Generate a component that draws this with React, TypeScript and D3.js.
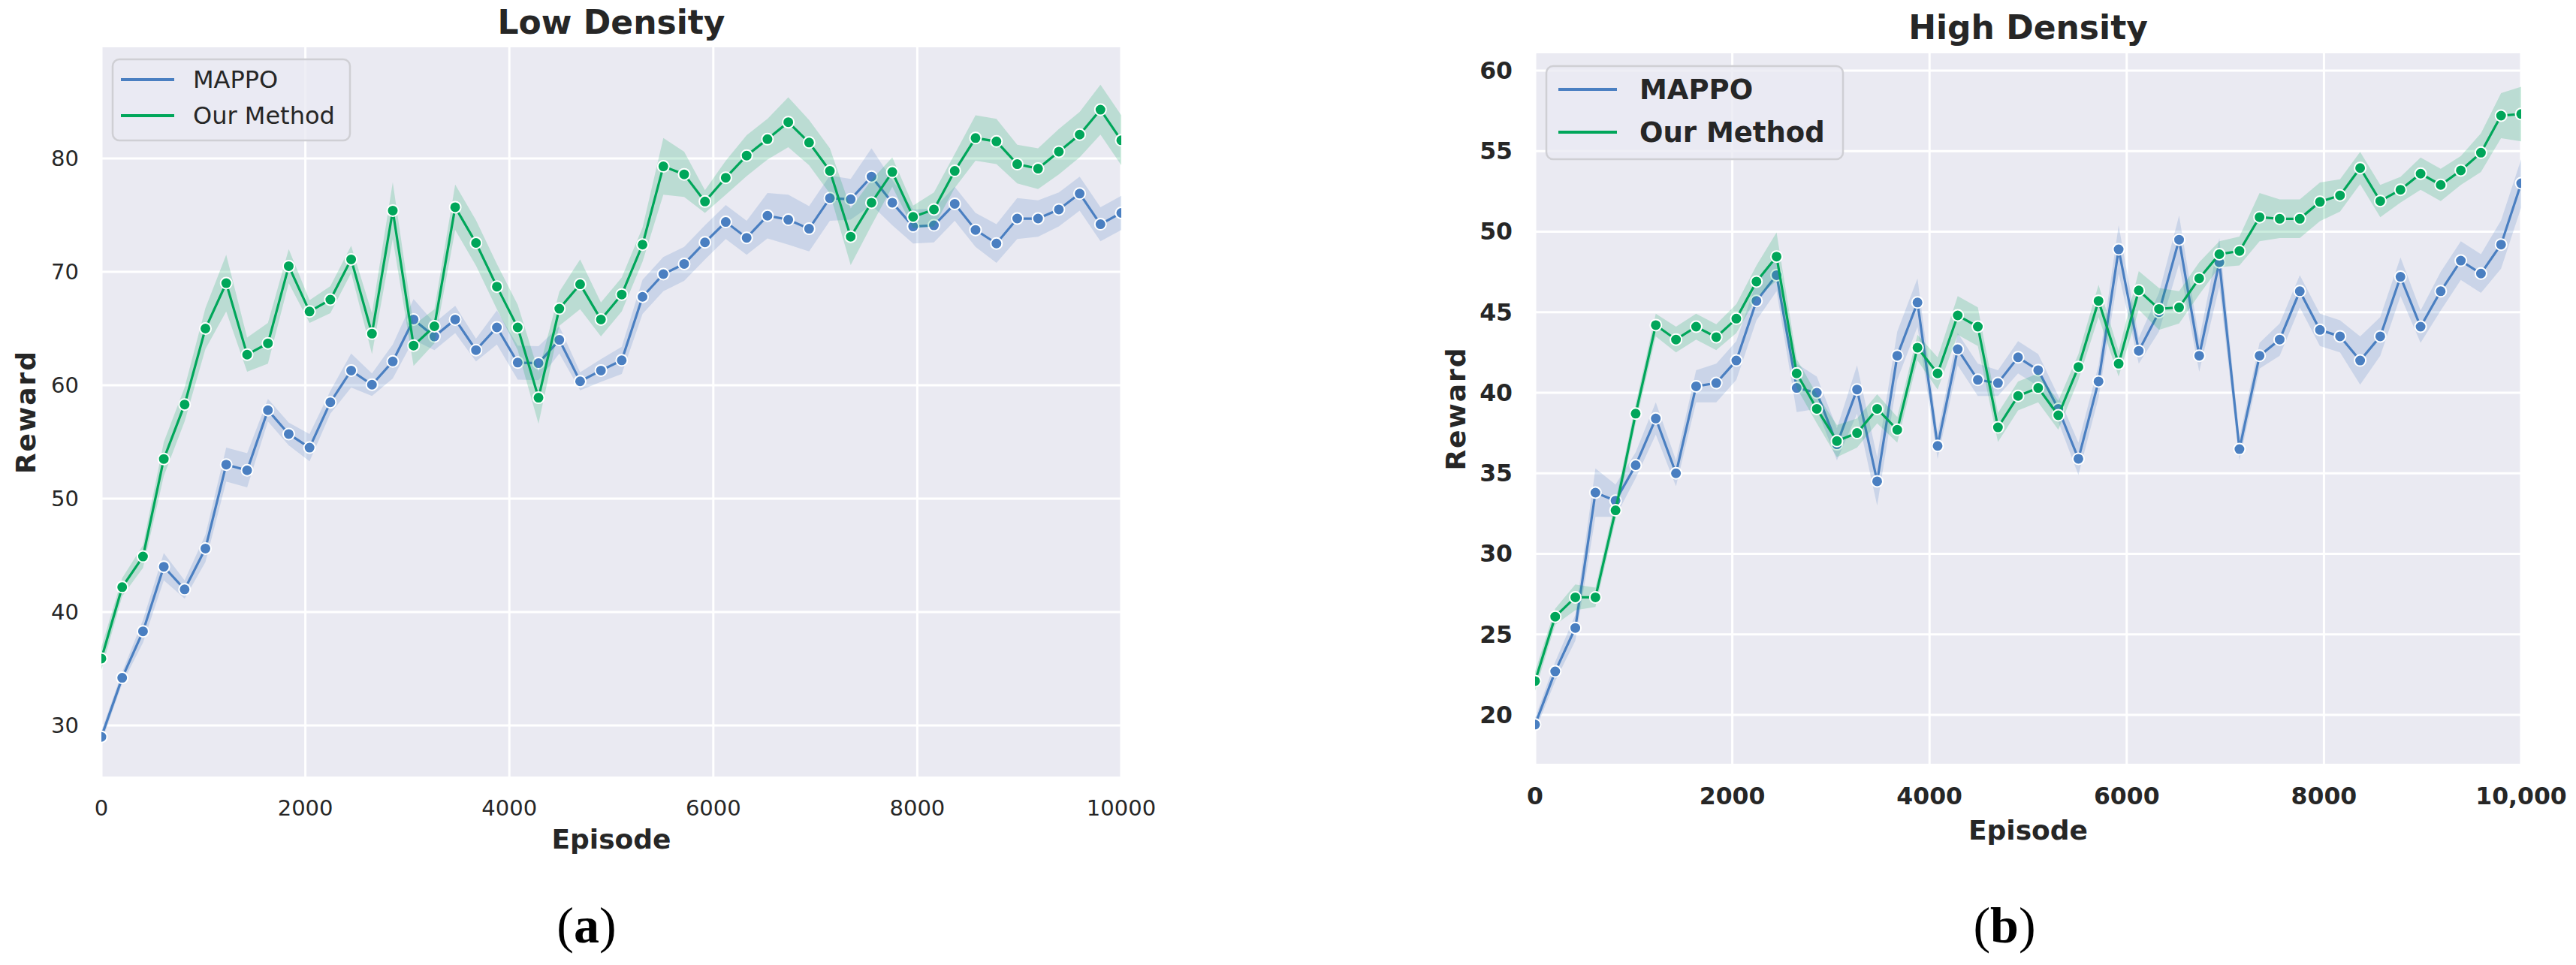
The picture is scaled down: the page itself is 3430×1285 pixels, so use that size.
import React from "react";
import * as d3 from "d3";

const W = 3430;
const H = 1285;

// episodes: 50 evenly spaced checkpoints between 0 and 10000
const episodes = [
  0, 204, 408, 612, 816, 1020, 1224, 1429, 1633, 1837, 2041, 2245, 2449, 2653, 2857, 3061, 3265,
  3469, 3673, 3878, 4082, 4286, 4490, 4694, 4898, 5102, 5306, 5510, 5714, 5918, 6122, 6327, 6531,
  6735, 6939, 7143, 7347, 7551, 7755, 7959, 8163, 8367, 8571, 8776, 8980, 9184, 9388, 9592, 9796,
  10000,
];

// Low Density
const lowMappo = [
  29.0, 34.2, 38.3, 44.0, 42.0, 45.6, 53.0, 52.5, 57.8, 55.7, 54.5, 58.5, 61.3, 60.05, 62.1, 65.8,
  64.3, 65.8, 63.1, 65.1, 62.0, 61.95, 64.0, 60.35, 61.3, 62.2, 67.8, 69.8, 70.7, 72.6, 74.4, 73.0,
  74.95, 74.6, 73.8, 76.5, 76.4, 78.4, 76.1, 74.0, 74.1, 76.0, 73.7, 72.5, 74.7, 74.7, 75.5, 76.9,
  74.2, 75.2,
];
const lowMappoCI = [
  0.5, 0.5, 1.0, 1.2, 0.8, 1.2, 1.5, 1.5, 1.0, 1.0, 1.2, 1.0, 1.5, 1.0, 1.5, 1.8, 1.2, 1.2, 1.0,
  1.5, 1.5, 1.5, 1.2, 0.8, 1.0, 1.2, 1.5, 1.5, 1.5, 1.5, 1.5, 1.5, 2.0, 2.2, 2.0, 2.0, 1.8, 2.5,
  2.0, 1.5, 1.5, 1.5, 1.5, 1.7, 1.8, 1.6, 1.5, 1.5, 1.5, 1.5,
];
const lowOurs = [
  35.9, 42.2, 44.9, 53.5, 58.3, 65.0, 69.0, 62.7, 63.7, 70.5, 66.5, 67.55, 71.1, 64.55, 75.4, 63.5,
  65.2, 75.7, 72.55, 68.7, 65.1, 58.9, 66.75, 68.9, 65.8, 68.0, 72.4, 79.3, 78.6, 76.2, 78.3, 80.25,
  81.7, 83.2, 81.4, 78.9, 73.1, 76.1, 78.8, 74.85, 75.5, 78.9, 81.8, 81.5, 79.5, 79.1, 80.6, 82.1,
  84.3, 81.6,
];
const lowOursCI = [
  1.0, 0.8, 1.0, 1.5, 1.5, 1.8, 2.5, 1.5, 1.8, 1.5, 1.0, 1.2, 1.2, 1.8, 2.5, 1.8, 1.5, 2.0, 2.0,
  2.0, 2.0, 2.3, 1.5, 2.2, 1.5, 1.5, 1.5, 2.5, 2.0, 1.0, 1.5, 1.8, 1.8, 2.2, 2.0, 2.0, 2.5, 2.0,
  1.3, 1.0, 1.5, 1.5, 2.0, 2.0, 1.7, 1.8, 2.0, 2.0, 2.2, 2.2,
];

// High Density
const highMappo = [
  19.4, 22.7, 25.4, 33.8, 33.3, 35.5, 38.4, 35.0, 40.4, 40.6, 42.0, 45.7, 47.3, 40.3, 40.0, 36.8,
  40.2, 34.5, 42.3, 45.6, 36.7, 42.7, 40.8, 40.6, 42.2, 41.4, 39.0, 35.9, 40.7, 48.9, 42.6, 45.0,
  49.5, 42.3, 48.1, 36.5, 42.3, 43.3, 46.3, 43.9, 43.5, 42.0, 43.5, 47.2, 44.1, 46.3, 48.2, 47.4,
  49.2, 53.0,
];
const highMappoCI = [
  0.4, 0.6, 0.8, 1.5, 1.0, 0.8, 1.0, 0.8, 1.0, 1.2, 1.2, 1.2, 1.0, 1.5, 1.0, 1.0, 1.5, 1.5, 1.5,
  1.5, 0.8, 1.0, 1.0, 0.8, 1.0, 1.0, 0.8, 1.0, 1.0, 1.5, 0.8, 1.2, 1.5, 1.0, 1.5, 0.7, 0.8, 1.0,
  1.0, 1.0, 1.0, 1.5, 1.2, 1.2, 1.0, 1.2, 1.2, 1.2, 1.5, 1.5,
];
const highOurs = [
  22.1, 26.1, 27.3, 27.3, 32.7, 38.7, 44.2, 43.3, 44.1, 43.45, 44.6, 46.9, 48.45, 41.2, 39.0, 37.0,
  37.5, 39.0, 37.7, 42.8, 41.2, 44.8, 44.1, 37.85, 39.8, 40.3, 38.6, 41.6, 45.7, 41.8, 46.35, 45.2,
  45.3, 47.1, 48.6, 48.8, 50.9, 50.8, 50.8, 51.85, 52.25, 53.95, 51.9, 52.6, 53.6, 52.9, 53.8, 54.9,
  57.2, 57.3,
];
const highOursCI = [
  0.6, 0.5, 0.8, 0.6, 0.6, 0.6, 0.7, 0.8, 0.8, 0.8, 0.9, 1.0, 1.5, 0.9, 0.9, 1.0, 0.9, 0.9, 0.8,
  0.8, 1.0, 1.2, 1.2, 0.9, 0.9, 0.9, 0.9, 0.8, 1.0, 0.8, 1.2, 1.3, 1.0, 1.0, 0.8, 0.9, 1.5, 1.2,
  1.2, 1.2, 1.0, 1.0, 1.0, 0.8, 1.0, 1.0, 0.9, 1.2, 1.4, 1.7,
];

const xTicks = [0, 2000, 4000, 6000, 8000, 10000];
const lowXLabels = ["0", "2000", "4000", "6000", "8000", "10000"];
const highXLabels = ["0", "2000", "4000", "6000", "8000", "10,000"];
const lowYTicks = [30, 40, 50, 60, 70, 80];
const highYTicks = [20, 25, 30, 35, 40, 45, 50, 55, 60];
const seriesNames = ["MAPPO", "Our Method"];

const BLUE = "#4a7fc1";
const GREEN = "#00a65a";
const BG = "#eaeaf2";
const INK = "#262626";
const FONT = "DejaVu Sans, sans-serif";

type Box = { x0: number; x1: number; y0: number; y1: number };

type PanelProps = {
  id: string;
  box: Box;
  yDomain: [number, number];
  yTicks: number[];
  xLabels: string[];
  title: string;
  mappo: number[];
  mappoCI: number[];
  ours: number[];
  oursCI: number[];
  tickBold: boolean;
  tickSize: number;
  xTickBase: number;
  titleBase: number;
  xLabelBase: number;
  yLabelX: number;
  legend: { x: number; y: number; w: number; h: number; rows: number[]; lx0: number; lx1: number; tx: number; size: number; bold: boolean };
};

const Panel = (p: PanelProps) => {
  const { box } = p;
  const x = d3.scaleLinear().domain([0, 10000]).range([box.x0, box.x1]);
  const y = d3.scaleLinear().domain(p.yDomain).range([box.y1, box.y0]);

  const series = [
    { name: seriesNames[0], color: BLUE, vals: p.mappo, ci: p.mappoCI },
    { name: seriesNames[1], color: GREEN, vals: p.ours, ci: p.oursCI },
  ];

  const line = d3
    .line<number>()
    .x((_, i) => x(episodes[i]))
    .y((d) => y(d));

  const cx = (box.x0 + box.x1) / 2;
  const cy = (box.y0 + box.y1) / 2;

  return (
    <g>
      <defs>
        <clipPath id={`clip-${p.id}`}>
          <rect x={box.x0} y={box.y0} width={box.x1 - box.x0} height={box.y1 - box.y0} />
        </clipPath>
      </defs>
      <rect x={box.x0} y={box.y0} width={box.x1 - box.x0} height={box.y1 - box.y0} fill={BG} />
      {p.yTicks.map((t) => (
        <line key={`gy${t}`} x1={box.x0} x2={box.x1} y1={y(t)} y2={y(t)} stroke="#fff" strokeWidth={3} />
      ))}
      {xTicks.map((t) => (
        <line key={`gx${t}`} x1={x(t)} x2={x(t)} y1={box.y0} y2={box.y1} stroke="#fff" strokeWidth={3} />
      ))}

      <g clipPath={`url(#clip-${p.id})`}>
        {series.map((s) => {
          const area = d3
            .area<number>()
            .x((_, i) => x(episodes[i]))
            .y0((d, i) => y(d - s.ci[i]))
            .y1((d, i) => y(d + s.ci[i]));
          return (
            <g key={s.name}>
              <path d={area(s.vals) ?? ""} fill={s.color} fillOpacity={0.2} />
              <path d={line(s.vals) ?? ""} fill="none" stroke={s.color} strokeWidth={3.2} />
              {s.vals.map((v, i) => (
                <circle key={i} cx={x(episodes[i])} cy={y(v)} r={7.5} fill={s.color} stroke="#fff" strokeWidth={2} />
              ))}
            </g>
          );
        })}
      </g>

      {/* tick labels */}
      {p.yTicks.map((t) => (
        <text
          key={`ty${t}`}
          x={box.x0 - 30}
          y={y(t)}
          textAnchor="end"
          dominantBaseline="central"
          fontSize={p.tickSize}
          fontWeight={p.tickBold ? "bold" : "normal"}
          fill={INK}
        >
          {t}
        </text>
      ))}
      {xTicks.map((t, i) => (
        <text
          key={`tx${t}`}
          x={x(t)}
          y={p.xTickBase}
          textAnchor="middle"
          fontSize={p.tickSize}
          fontWeight={p.tickBold ? "bold" : "normal"}
          fill={INK}
        >
          {p.xLabels[i]}
        </text>
      ))}

      <text x={cx} y={p.titleBase} textAnchor="middle" fontSize={44} fontWeight="bold" fill={INK}>
        {p.title}
      </text>
      <text x={cx} y={p.xLabelBase} textAnchor="middle" fontSize={36} fontWeight="bold" fill={INK}>
        Episode
      </text>
      <text
        transform={`translate(${p.yLabelX},${cy}) rotate(-90)`}
        textAnchor="middle"
        fontSize={36}
        fontWeight="bold"
        fill={INK}
        letterSpacing={2}
      >
        Reward
      </text>

      {/* legend */}
      <rect
        x={p.legend.x}
        y={p.legend.y}
        width={p.legend.w}
        height={p.legend.h}
        rx={9}
        fill={BG}
        fillOpacity={0.8}
        stroke="#cfcfd4"
        strokeWidth={2.5}
      />
      {series.map((s, i) => (
        <g key={`lg${s.name}`}>
          <line
            x1={p.legend.lx0}
            x2={p.legend.lx1}
            y1={p.legend.rows[i]}
            y2={p.legend.rows[i]}
            stroke={s.color}
            strokeWidth={4}
          />
          <text
            x={p.legend.tx}
            y={p.legend.rows[i]}
            dominantBaseline="central"
            fontSize={p.legend.size}
            fontWeight={p.legend.bold ? "bold" : "normal"}
            fill={INK}
          >
            {s.name}
          </text>
        </g>
      ))}
    </g>
  );
};

export default function App() {
  return (
    <svg
      width={W}
      height={H}
      style={{ position: "absolute", left: 0, top: 0, background: "#fff" }}
      fontFamily={FONT}
    >
      <rect width={W} height={H} fill="#fff" />
      <Panel
        id="low"
        box={{ x0: 135, x1: 1493, y0: 63, y1: 1034 }}
        yDomain={[25.5, 89.8]}
        yTicks={lowYTicks}
        xLabels={lowXLabels}
        title="Low Density"
        mappo={lowMappo}
        mappoCI={lowMappoCI}
        ours={lowOurs}
        oursCI={lowOursCI}
        tickBold={false}
        tickSize={29}
        xTickBase={1086}
        titleBase={45}
        xLabelBase={1130}
        yLabelX={47}
        legend={{ x: 150, y: 79, w: 316, h: 108, rows: [106, 154], lx0: 161, lx1: 232, tx: 257, size: 32, bold: false }}
      />
      <Panel
        id="high"
        box={{ x0: 2044, x1: 3357, y0: 71, y1: 1017 }}
        yDomain={[16.97, 61.07]}
        yTicks={highYTicks}
        xLabels={highXLabels}
        title="High Density"
        mappo={highMappo}
        mappoCI={highMappoCI}
        ours={highOurs}
        oursCI={highOursCI}
        tickBold={true}
        tickSize={31.5}
        xTickBase={1071}
        titleBase={52}
        xLabelBase={1118}
        yLabelX={1951}
        legend={{ x: 2059, y: 88, w: 395, h: 124, rows: [119, 176], lx0: 2075, lx1: 2153, tx: 2183, size: 37, bold: true }}
      />
      <text x={781} y={1255} textAnchor="middle" fontSize={68} fontFamily="Liberation Serif, serif" fill="#000">
        (<tspan fontWeight="bold">a</tspan>)
      </text>
      <text x={2669} y={1255} textAnchor="middle" fontSize={68} fontFamily="Liberation Serif, serif" fill="#000">
        (<tspan fontWeight="bold">b</tspan>)
      </text>
    </svg>
  );
}
